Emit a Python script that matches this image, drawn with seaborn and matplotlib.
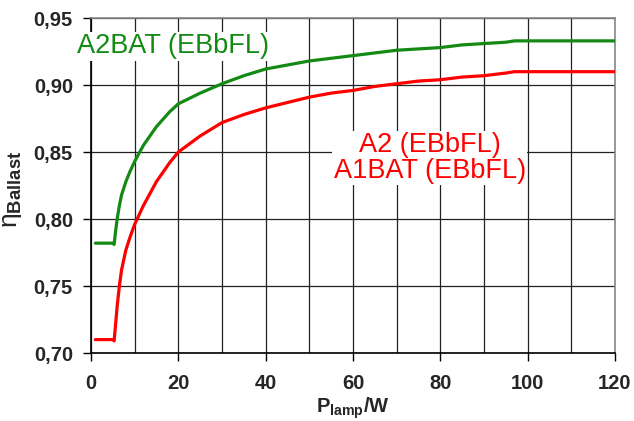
import matplotlib
matplotlib.use('Agg')
import matplotlib.pyplot as plt
import seaborn as sns
from matplotlib.ticker import MultipleLocator, FuncFormatter

# Lamp power (W) and ballast efficiency
p_lamp = [1, 2, 3, 4, 5, 5.3, 5.6, 6, 6.5, 7, 8, 9, 10, 12, 15, 18, 20, 25, 30,
          35, 40, 45, 50, 55, 60, 65, 70, 75, 80, 85, 90, 95, 97, 100, 110, 120]
eta_a2bat = [0.782, 0.782, 0.782, 0.782, 0.782, 0.781, 0.790, 0.800, 0.810, 0.818,
             0.828, 0.836, 0.843, 0.855, 0.869, 0.880, 0.886, 0.894, 0.901, 0.907,
             0.912, 0.915, 0.918, 0.920, 0.922, 0.924, 0.926, 0.927, 0.928, 0.930,
             0.931, 0.932, 0.933, 0.933, 0.933, 0.933]
eta_a2_a1bat = [0.710, 0.710, 0.710, 0.710, 0.710, 0.709, 0.720, 0.735, 0.750, 0.762,
                0.777, 0.787, 0.796, 0.810, 0.828, 0.842, 0.850, 0.862, 0.872, 0.878,
                0.883, 0.887, 0.891, 0.894, 0.896, 0.899, 0.901, 0.903, 0.904, 0.906,
                0.907, 0.909, 0.910, 0.910, 0.910, 0.910]

sns.set_style('white')
plt.rcParams['font.family'] = ['Liberation Sans', 'DejaVu Sans']
plt.rcParams['mathtext.fontset'] = 'custom'
plt.rcParams['mathtext.rm'] = 'Liberation Sans'
plt.rcParams['mathtext.bf'] = 'Liberation Sans:bold'

green = '#138a13'
red = '#ff0000'

fig = plt.figure(figsize=(6.34, 4.21), dpi=100)
ax = fig.add_axes([0.1435, 0.1615, 0.8265, 0.7955])

sns.lineplot(x=p_lamp, y=eta_a2bat, color=green, linewidth=2.3, ax=ax, zorder=3)
sns.lineplot(x=p_lamp, y=eta_a2_a1bat, color=red, linewidth=2.3, ax=ax, zorder=3)

ax.set_xlim(0, 120)
ax.set_ylim(0.70, 0.95)
ax.xaxis.set_major_locator(MultipleLocator(20))
ax.xaxis.set_minor_locator(MultipleLocator(10))
ax.yaxis.set_major_locator(MultipleLocator(0.05))
ax.yaxis.set_major_formatter(FuncFormatter(lambda v, p: f'{v:.2f}'.replace('.', ',')))
ax.grid(True, which='both', color='#222222', linewidth=0.9)
ax.set_axisbelow(True)

ax.tick_params(axis='both', which='major', direction='out', length=6, width=1,
               color='black', labelsize=14.5, bottom=True, left=True)
ax.tick_params(axis='x', which='major', pad=9)
ax.tick_params(axis='y', which='major', pad=7)
ax.tick_params(axis='x', which='minor', length=0)
for lab in ax.get_xticklabels() + ax.get_yticklabels():
    lab.set_fontweight('bold')

for side in ['left', 'bottom']:
    ax.spines[side].set_color('black')
    ax.spines[side].set_linewidth(1.2)
for side in ['top', 'right']:
    ax.spines[side].set_color('#888888')
    ax.spines[side].set_linewidth(1.2)

ax.set_xlabel(r'$\mathbf{P_{lamp}/W}$', fontsize=14.5)
ax.set_ylabel(r'η$_{\mathbf{Ballast}}$', fontsize=19)
ax.xaxis.set_label_coords(0.5, -0.128)
ax.yaxis.set_label_coords(-0.128, 0.49)

ax.text(18.8, 0.929, 'A2BAT (EBbFL)', color=green, fontsize=19.5, ha='center',
        va='center', bbox=dict(facecolor='white', edgecolor='none', pad=1), zorder=4)
ax.text(77.6, 0.8455, 'A2 (EBbFL)\nA1BAT (EBbFL)', color=red, fontsize=19.5,
        ha='center', va='center', linespacing=1.0,
        bbox=dict(facecolor='white', edgecolor='none', pad=1), zorder=4)

fig.savefig('out.png', dpi=100)
